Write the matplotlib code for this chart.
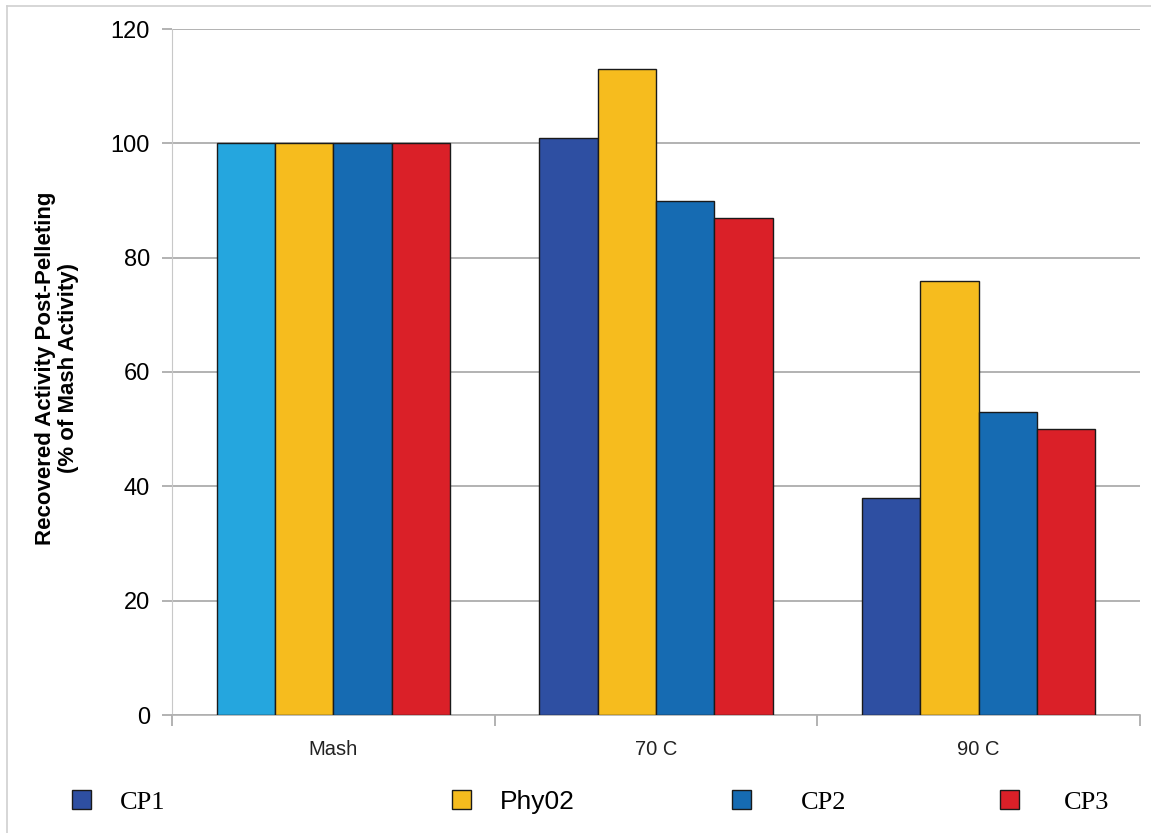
import matplotlib.pyplot as plt
import numpy as np

categories = ['Mash', '70 C', '90 C']
series = ['CP1', 'Phy02', 'CP2', 'CP3']
cp1 = [100, 101, 38]
phy02 = [100, 113, 76]
cp2 = [100, 90, 53]
cp3 = [100, 87, 50]
values = [cp1, phy02, cp2, cp3]

colors = ['#2E4FA2', '#F6BC1E', '#166BB2', '#DA2028']
# first Mash bar is drawn in a lighter blue in the original
cp1_bar_colors = ['#25A6DE', '#2E4FA2', '#2E4FA2']

fig = plt.figure(figsize=(11.51, 8.33), dpi=100)
ax = fig.add_axes([172/1151, 1 - 715/833, (1140 - 172)/1151, (715 - 29)/833])

x = np.arange(len(categories))
w = 0.181
for i, vals in enumerate(values):
    c = cp1_bar_colors if i == 0 else colors[i]
    ax.bar(x + (i - 1.5) * w, vals, w, color=c, edgecolor='#1a1a1a',
           linewidth=1.0, zorder=3)

ax.set_xlim(-0.5, 2.5)
ax.set_ylim(0, 120)
ax.set_yticks(range(0, 121, 20))
ax.yaxis.grid(True, color='#A6A6A6', linewidth=1.2, zorder=0)
ax.tick_params(axis='y', length=7, color='#A6A6A6', width=1.2, labelsize=17, pad=9)
for lbl in ax.get_yticklabels():
    lbl.set_fontfamily('Liberation Sans')

ax.set_xticks([-0.5, 0.5, 1.5, 2.5])
ax.set_xticklabels([])
ax.tick_params(axis='x', length=8, color='#A6A6A6', width=1.2, direction='out')
for xi, cat in zip(x, categories):
    ax.text(xi, -4.3, cat, ha='center', va='top', fontsize=14.5,
            family='Liberation Sans', color='#222222')

for s in ['top', 'right']:
    ax.spines[s].set_visible(False)
ax.spines['left'].set_color('#C8C8C8')
ax.spines['bottom'].set_color('#B0B0B0')
ax.spines['bottom'].set_linewidth(1.2)

fig.text(57/1151, 1 - 368/833, 'Recovered Activity Post-Pelleting\n(% of Mash Activity)',
         rotation=90, ha='center', va='center', fontsize=16, fontweight='bold',
         family='Liberation Sans', linespacing=1.12)

# legend entries spread across the bottom
leg_x = [72, 452, 732, 1000]
pads = [1.1, 1.1, 1.9, 1.7]
fonts = ['Liberation Serif', 'Liberation Sans', 'Liberation Serif', 'Liberation Serif']
for i, name in enumerate(series):
    h = plt.Rectangle((0, 0), 1, 1, facecolor=colors[i], edgecolor='#1a1a1a', linewidth=1)
    fig.legend([h], [name], loc='center left',
               bbox_to_anchor=(leg_x[i]/1151, 1 - 802/833), frameon=False,
               borderpad=0, borderaxespad=0,
               handlelength=0.72, handleheight=0.72, handletextpad=pads[i],
               prop={'family': fonts[i], 'size': 19})

# thin gray border of the chart area
fig.add_artist(plt.Line2D([7/1151, 7/1151], [0, 1 - 6/833], color='#D0D0D0',
                          linewidth=1.2, transform=fig.transFigure))
fig.add_artist(plt.Line2D([7/1151, 1], [1 - 6/833, 1 - 6/833], color='#D0D0D0',
                          linewidth=1.2, transform=fig.transFigure))

plt.savefig('out.png', dpi=100)
